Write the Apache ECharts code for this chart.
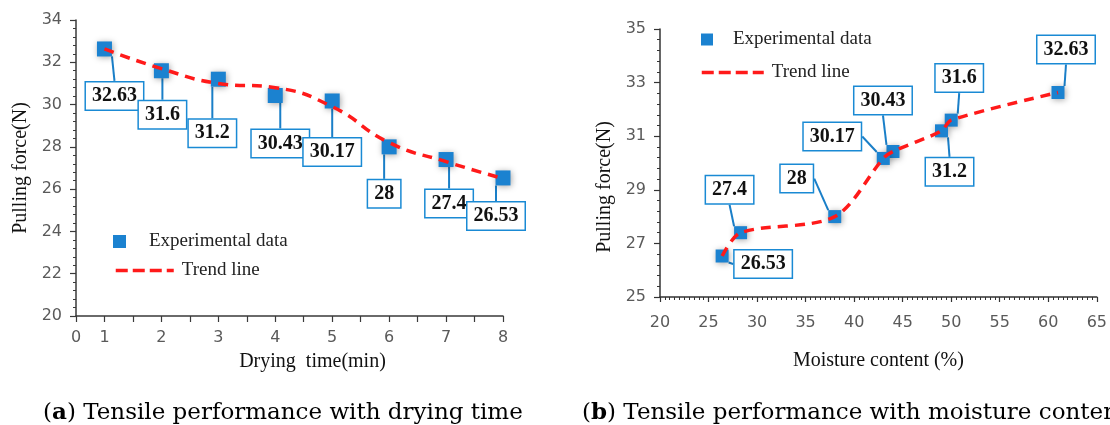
<!DOCTYPE html>
<html><head><meta charset="utf-8">
<script src="https://cdn.jsdelivr.net/npm/echarts@6/dist/echarts.min.js"></script>
<style>html,body{margin:0;padding:0;background:#fff}#c{width:1110px;height:425px}</style>
</head><body><div id="c"></div>
<script>
// ---- data ----
const dryingTime = [1, 2, 3, 4, 5, 6, 7, 8];
const forceA = [32.63, 31.6, 31.2, 30.43, 30.17, 28, 27.4, 26.53];
const trendA = [32.63, 31.7, 31.0, 30.8, 29.9, 28.2, 27.3, 26.5];
const moisture = [61, 50, 49, 44, 43, 38, 28.3, 26.4];
const forceB = [32.63, 31.6, 31.2, 30.43, 30.17, 28, 27.4, 26.53];
const trendBX = [26.4, 28.3, 38, 43, 44, 49, 50, 61];
const trendBY = [26.53, 27.4, 28, 30.17, 30.43, 31.2, 31.6, 32.63];
const xTickValuesA = [0.5, 1, 2, 3, 4, 5, 6, 7, 8];
const xTickLabelsA = ['0', '1', '2', '3', '4', '5', '6', '7', '8'];
const seriesNames = ['Experimental data', 'Trend line'];
const yName = 'Pulling force(N)';
const xNameA = 'Drying  time(min)';
const xNameB = 'Moisture content (%)';
const captionA = ['a', ' Tensile performance with drying time'];
const captionB = ['b', ' Tensile performance with moisture content'];

// ---- label offsets (layout only) ----
const offA = [[10,47],[1,44],[-6,54],[5,48],[0,51],[-5,47],[3,44],[-7,38]];
const offB = [[8,-43],[8,-42],[8,41],[-10,-51],[-51,-22],[-38,-38],[-11,-43],[41,8]];

const BLUE = '#1b82d0';
const RED = '#ff1a1a';
const serif = 'Liberation Serif';
const capFont = 'DejaVu Serif';
const sans = 'DejaVu Sans';

const labelStyle = {
  show: true, position: 'inside',
  formatter: p => String(p.value[1]),
  backgroundColor: '#fff', borderColor: '#1a8ad4', borderWidth: 1.5,
  padding: [4, 6, 3, 6], fontFamily: serif, fontWeight: 'bold', fontSize: 20, color: '#111'
};
const labelLine = { show: true, lineStyle: { color: '#1a7fc8', width: 2 } };
const markerStyle = { color: BLUE, opacity: 1, shadowBlur: 6, shadowColor: 'rgba(0,0,0,0.35)', shadowOffsetX: 1, shadowOffsetY: 1 };
const hiddenSymbol = { color: 'rgba(0,0,0,0)', borderColor: 'rgba(0,0,0,0)', borderWidth: 0, opacity: 0 };
const legendDash = { color: RED, width: 3.5, type: [12, 5] };

function axisCommon(color) {
  return {
    axisLine: { show: true, lineStyle: { color: color, width: 1.5 } },
    axisTick: { show: true, inside: false, length: 6, lineStyle: { color: color, width: 1.2 } },
    minorTick: { show: true, length: 3, lineStyle: { color: color, width: 1 } },
    splitLine: { show: false },
    axisLabel: { fontFamily: sans, fontSize: 16, color: '#5a5a5a' },
    nameTextStyle: { fontFamily: serif, fontSize: 20, color: '#111' }
  };
}

const chart = echarts.init(document.getElementById('c'), null, { renderer: 'canvas' });
const richCap = { b: { fontFamily: capFont, fontSize: 23, fontWeight: 'bold', color: '#000' } };
chart.setOption({
  animation: false,
  backgroundColor: '#fff',
  title: [
    { text: '(' + '{b|' + captionA[0] + '}' + ')' + captionA[1], left: 38, top: 397,
      textStyle: { fontFamily: capFont, fontSize: 23, fontWeight: 'normal', color: '#000', rich: richCap } },
    { text: '(' + '{b|' + captionB[0] + '}' + ')' + captionB[1], left: 577, top: 397,
      textStyle: { fontFamily: capFont, fontSize: 23, fontWeight: 'normal', color: '#000', rich: richCap } }
  ],
  legend: [
    { data: [seriesNames[0]], left: 108, top: 227, icon: 'rect', itemWidth: 13, itemHeight: 13,
      textStyle: { fontFamily: serif, fontSize: 19, color: '#222', padding: [0, 0, 0, 18] } },
    { data: [{ name: seriesNames[1], itemStyle: hiddenSymbol, lineStyle: legendDash }], left: 109, top: 256, itemWidth: 58, itemHeight: 14,
      textStyle: { fontFamily: serif, fontSize: 19, color: '#222', padding: [0, 0, 0, 3] } },
    { data: [seriesNames[0]], left: 696, top: 25, icon: 'rect', itemWidth: 12, itemHeight: 12,
      textStyle: { fontFamily: serif, fontSize: 19, color: '#222', padding: [0, 0, 0, 15] } },
    { data: [{ name: seriesNames[1], itemStyle: hiddenSymbol, lineStyle: legendDash }], left: 695, top: 58, itemWidth: 62, itemHeight: 14,
      textStyle: { fontFamily: serif, fontSize: 19, color: '#222', padding: [0, 0, 0, 3] } }
  ],
  grid: [
    { left: 76, top: 20, width: 427, height: 296 },
    { left: 660, top: 29, width: 443, height: 268 }
  ],
  xAxis: [
    Object.assign(axisCommon('#3a3a3a'), {
      gridIndex: 0, type: 'value', min: 0.5, max: 8, interval: 0.5,
      minorTick: { show: false },
      name: xNameA, nameLocation: 'middle', nameGap: 36,
      nameTextStyle: { fontFamily: serif, fontSize: 20, color: '#111', padding: [0, 0, 0, 46] },
      axisLabel: { fontFamily: sans, fontSize: 16, color: '#5a5a5a', margin: 14,
        formatter: v => { const i = xTickValuesA.indexOf(v); return i >= 0 ? xTickLabelsA[i] : ''; } }
    }),
    Object.assign(axisCommon('#333'), {
      gridIndex: 1, type: 'value', min: 20, max: 65, interval: 5,
      name: xNameB, nameLocation: 'middle', nameGap: 54,
      axisTick: { show: true, length: 5, lineStyle: { color: '#333', width: 1.2 } },
      minorTick: { show: true, length: 3, splitNumber: 10, lineStyle: { color: '#333', width: 1 } },
      axisLabel: { fontFamily: sans, fontSize: 16, color: '#5a5a5a', margin: 18 }
    })
  ],
  yAxis: [
    Object.assign(axisCommon('#3a3a3a'), {
      gridIndex: 0, type: 'value', min: 20, max: 34, interval: 2,
      minorTick: { show: true, length: 3, splitNumber: 5, lineStyle: { color: '#3a3a3a', width: 1 } },
      name: yName, nameLocation: 'middle', nameGap: 45,
      axisLabel: { fontFamily: sans, fontSize: 16, color: '#5a5a5a', margin: 14 }
    }),
    Object.assign(axisCommon('#333'), {
      gridIndex: 1, type: 'value', min: 25, max: 35, interval: 2,
      minorTick: { show: true, length: 3, splitNumber: 5, lineStyle: { color: '#333', width: 1 } },
      name: yName, nameLocation: 'middle', nameGap: 45,
      nameTextStyle: { fontFamily: serif, fontSize: 20, color: '#111', padding: [0, 48, 0, 0] },
      axisLabel: { fontFamily: sans, fontSize: 16, color: '#5a5a5a', margin: 14 }
    })
  ],
  series: [
    { name: seriesNames[0], type: 'scatter', xAxisIndex: 0, yAxisIndex: 0, z: 2,
      symbol: 'rect', symbolSize: 15, itemStyle: markerStyle,
      data: dryingTime.map((x, i) => [x, forceA[i]]),
      label: labelStyle, labelLine: labelLine,
      labelLayout: p => ({ dx: offA[p.dataIndex][0], dy: offA[p.dataIndex][1] }) },
    { name: seriesNames[1], type: 'line', xAxisIndex: 0, yAxisIndex: 0, z: 3,
      symbol: 'none', smooth: 0.5,
      lineStyle: { color: RED, width: 3.5, type: [10, 7] }, itemStyle: { color: RED },
      data: dryingTime.map((x, i) => [x, trendA[i]]) },
    { name: seriesNames[0], type: 'scatter', xAxisIndex: 1, yAxisIndex: 1, z: 2,
      symbol: 'rect', symbolSize: 13, itemStyle: markerStyle,
      data: moisture.map((x, i) => [x, forceB[i]]),
      label: labelStyle, labelLine: labelLine,
      labelLayout: p => ({ dx: offB[p.dataIndex][0], dy: offB[p.dataIndex][1] }) },
    { name: seriesNames[1], type: 'line', xAxisIndex: 1, yAxisIndex: 1, z: 3,
      symbol: 'none', smooth: 0.3,
      lineStyle: { color: RED, width: 3.5, type: [10, 7] }, itemStyle: { color: RED },
      data: trendBX.map((x, i) => [x, trendBY[i]]) }
  ]
});
</script></body></html>
